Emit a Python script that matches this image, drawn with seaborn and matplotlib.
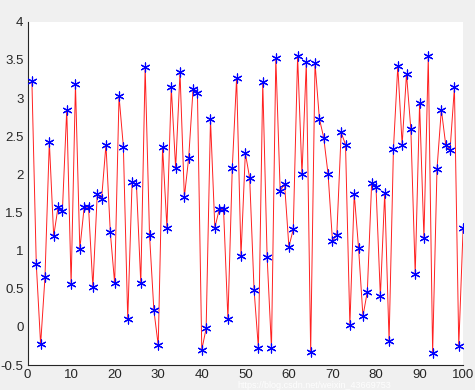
import numpy as np
import pandas as pd
import matplotlib
matplotlib.use("Agg")
import matplotlib.pyplot as plt
import seaborn as sns

idx = list(range(1, 101))
values = [
    3.22, 0.83, -0.23, 0.65, 2.43, 1.19, 1.57, 1.52, 2.85, 0.56,
    3.18, 1.02, 1.57, 1.57, 0.52, 1.74, 1.68, 2.39, 1.24, 0.57,
    3.03, 2.36, 0.10, 1.90, 1.87, 0.57, 3.41, 1.21, 0.22, -0.24,
    2.36, 1.30, 3.14, 2.08, 3.34, 1.70, 2.22, 3.12, 3.07, -0.30,
    -0.02, 2.72, 1.30, 1.54, 1.54, 0.10, 2.08, 3.27, 0.93, 2.28,
    1.95, 0.49, -0.28, 3.21, 0.92, -0.28, 3.53, 1.78, 1.88, 1.05,
    1.28, 3.55, 2.00, 3.47, -0.33, 3.46, 2.73, 2.48, 2.00, 1.13,
    1.21, 2.55, 2.39, 0.02, 1.745, 1.03, 0.14, 0.46, 1.885, 1.83,
    0.40, 1.76, -0.185, 2.33, 3.42, 2.39, 3.32, 2.59, 0.69, 2.93,
    1.17, 3.55, -0.34, 2.07, 2.85, 2.39, 2.32, 3.14, -0.25, 1.30,
]
xticks = list(range(0, 101, 10))
yticks = [-0.5, 0, 0.5, 1, 1.5, 2, 2.5, 3, 3.5, 4]
ytick_labels = ["-0.5", "0", "0.5", "1", "1.5", "2", "2.5", "3", "3.5", "4"]

df = pd.DataFrame({"i": idx, "v": values})

sns.set_style("white")
plt.rcParams["font.family"] = ["Liberation Sans", "DejaVu Sans"]

fig = plt.figure(figsize=(4.75, 3.9), dpi=100, facecolor="#f0f0f0")
ax = fig.add_axes([0.058, 0.064, 0.917, 0.880])
ax.set_facecolor("white")

sns.lineplot(data=df, x="i", y="v", color="#ff2020", linewidth=0.7, ax=ax)
sns.scatterplot(data=df, x="i", y="v", marker=(6, 2, 0), s=42, color="blue",
                edgecolor="blue", linewidth=0.85, ax=ax, zorder=3)

ax.set_xlim(0, 100)
ax.set_ylim(-0.5, 4)
ax.set_xticks(xticks)
ax.set_yticks(yticks)
ax.set_yticklabels(ytick_labels)
ax.set_xlabel("")
ax.set_ylabel("")
ax.tick_params(direction="in", length=4, width=0.8, colors="#262626",
               labelsize=9.5, pad=3)
for side in ["top", "right"]:
    ax.spines[side].set_visible(False)
for side in ["left", "bottom"]:
    ax.spines[side].set_color("#262626")
    ax.spines[side].set_linewidth(0.8)

# csdn watermark, kept small along the bottom edge
fig.text(0.50, 0.0, "https://blog.csdn.net/weixin_43669753", color="white",
         alpha=0.9, fontsize=6.5, ha="left", va="bottom")

fig.savefig("out.png", dpi=100, facecolor=fig.get_facecolor())
